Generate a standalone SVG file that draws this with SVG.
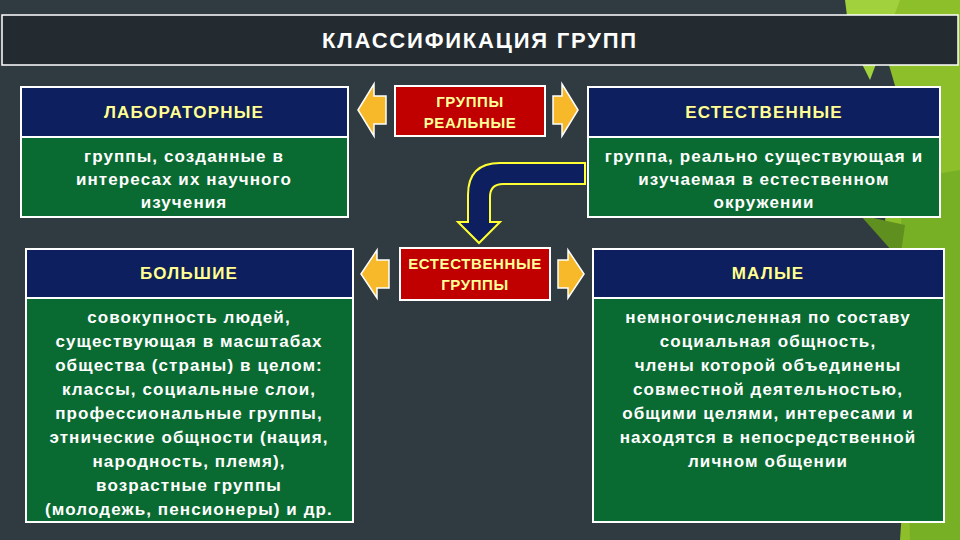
<svg xmlns="http://www.w3.org/2000/svg" width="960" height="540" viewBox="0 0 960 540">
<style>
.hd{fill:#0d1f5f;stroke:#fff;stroke-width:2}
.bd{fill:#0a6b32;stroke:#fff;stroke-width:2}
.rd{fill:#c00000;stroke:#fff;stroke-width:2}
.ya{fill:#f7b92a;stroke:#fff;stroke-width:1.5}
.ht{font-family:"Liberation Sans",Arial,sans-serif;font-weight:bold;font-size:17px;letter-spacing:1.2px;fill:#ffff99;text-anchor:middle;stroke:#222;stroke-width:0.6;paint-order:stroke}
.bt{font-family:"Liberation Sans",Arial,sans-serif;font-weight:bold;font-size:17px;letter-spacing:1.1px;fill:#fff;text-anchor:middle}
.rt{font-family:"Liberation Sans",Arial,sans-serif;font-weight:bold;font-size:15px;letter-spacing:0.6px;fill:#ffff99;text-anchor:middle}
</style>
<rect width="960" height="540" fill="#2f3b40"/>
<g>
<polygon points="870,0 960,0 960,540 900,540 915,320 885,220 905,120" fill="#8cbf2a"/>
<polygon points="845,0 900,0 870,80 850,40" fill="#a2d13e"/>
<polygon points="900,180 960,170 960,540 910,540" fill="#78b025"/>
<polygon points="860,215 905,225 900,260" fill="#5f8f1e"/>
</g>
<g id="title">
<rect x="2" y="15" width="956" height="50" fill="#232b30" stroke="#fff" stroke-width="1.5"/>
<text x="480" y="48" font-family="Liberation Sans,Arial,sans-serif" font-weight="bold" font-size="22" letter-spacing="1.8" fill="#fff" text-anchor="middle">КЛАССИФИКАЦИЯ ГРУПП</text>
</g>
<g id="lab">
<rect class="hd" x="21" y="87" width="327" height="50"/>
<rect class="bd" x="21" y="137" width="327" height="80"/>
<text class="ht" x="184" y="118">ЛАБОРАТОРНЫЕ</text>
<text class="bt" x="184" y="162">группы, созданные в</text>
<text class="bt" x="184" y="185">интересах их научного</text>
<text class="bt" x="184" y="208">изучения</text>
</g>
<g id="real">
<rect class="rd" x="395" y="86" width="150" height="50"/>
<text class="rt" x="470" y="107">ГРУППЫ</text>
<text class="rt" x="470" y="128">РЕАЛЬНЫЕ</text>
</g>
<g id="nat">
<rect class="hd" x="588" y="87" width="352" height="50"/>
<rect class="bd" x="588" y="137" width="352" height="80"/>
<text class="ht" x="764" y="118">ЕСТЕСТВЕННЫЕ</text>
<text class="bt" x="764" y="162">группа, реально существующая и</text>
<text class="bt" x="764" y="185">изучаемая в естественном</text>
<text class="bt" x="764" y="208">окружении</text>
</g>
<g id="big">
<rect class="hd" x="26" y="249" width="327" height="49"/>
<rect class="bd" x="26" y="298" width="327" height="224"/>
<text class="ht" x="189" y="279">БОЛЬШИЕ</text>
<text class="bt" x="189" y="323">совокупность людей,</text>
<text class="bt" x="189" y="347">существующая в масштабах</text>
<text class="bt" x="189" y="371">общества (страны) в целом:</text>
<text class="bt" x="189" y="395">классы, социальные слои,</text>
<text class="bt" x="189" y="419">профессиональные группы,</text>
<text class="bt" x="189" y="443">этнические общности (нация,</text>
<text class="bt" x="189" y="467">народность, племя),</text>
<text class="bt" x="189" y="491">возрастные группы</text>
<text class="bt" x="189" y="515">(молодежь, пенсионеры) и др.</text>
</g>
<g id="natgr">
<rect class="rd" x="400" y="248" width="150" height="52"/>
<text class="rt" x="475" y="269">ЕСТЕСТВЕННЫЕ</text>
<text class="rt" x="475" y="290">ГРУППЫ</text>
</g>
<g id="small">
<rect class="hd" x="593" y="249" width="351" height="49"/>
<rect class="bd" x="593" y="298" width="351" height="224"/>
<text class="ht" x="768" y="279">МАЛЫЕ</text>
<text class="bt" x="768" y="323">немногочисленная по составу</text>
<text class="bt" x="768" y="347">социальная общность,</text>
<text class="bt" x="768" y="371">члены которой объединены</text>
<text class="bt" x="768" y="395">совместной деятельностью,</text>
<text class="bt" x="768" y="419">общими целями, интересами и</text>
<text class="bt" x="768" y="443">находятся в непосредственной</text>
<text class="bt" x="768" y="467">личном общении</text>
</g>
<g id="connectors">
<polygon class="ya" points="358,110 374,84 374,96 386,96 386,124 374,124 374,136"/>
<polygon class="ya" points="578,110 562,84 562,96 553,96 553,124 562,124 562,136"/>
<polygon class="ya" points="361,274 377,250 377,260 389,260 389,288 377,288 377,298"/>
<polygon class="ya" points="584,274 568,250 568,260 558,260 558,288 568,288 568,298"/>
<path d="M585,163 L500,163 Q468,163 468,195 L468,222 L458,222 L479,243 L500,222 L490,222 L490,197 Q490,184 503,184 L585,184 Z" fill="#0d1f5f" stroke="#ffff33" stroke-width="2"/>
</g>
</svg>
